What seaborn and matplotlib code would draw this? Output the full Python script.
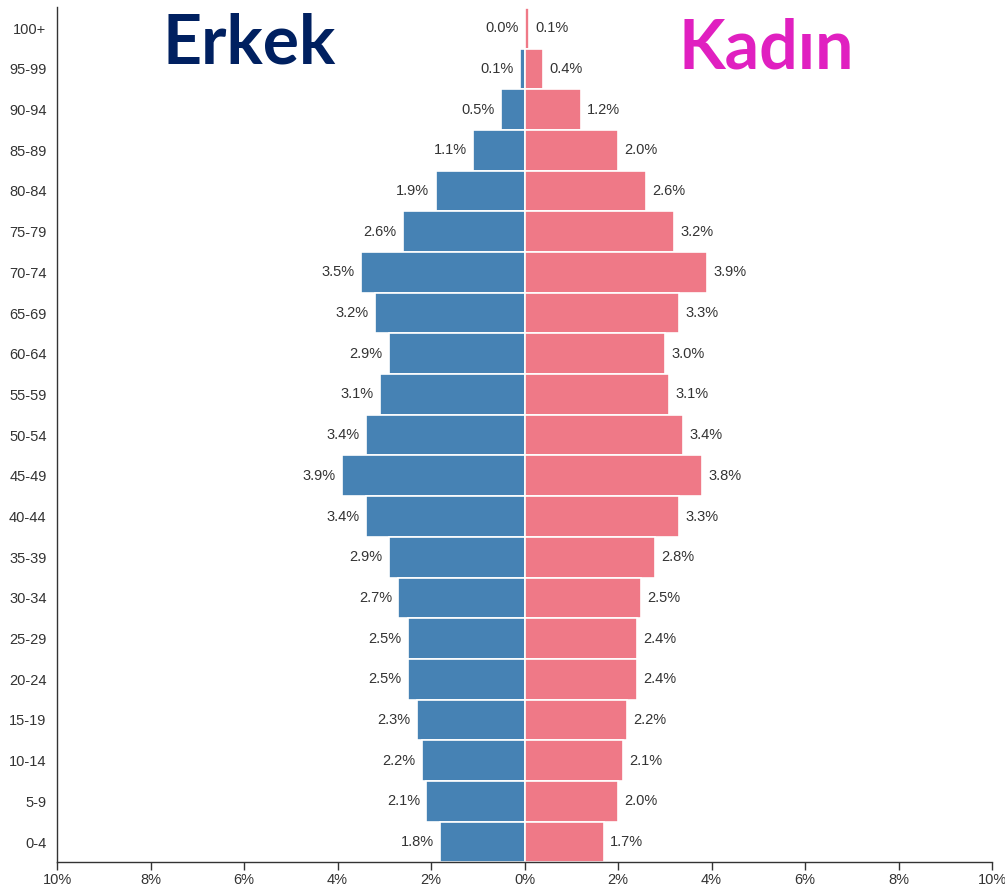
import numpy as np
import pandas as pd
import matplotlib
matplotlib.use("Agg")
import matplotlib.pyplot as plt
import seaborn as sns

# ── DATA ────────────────────────────────────────────────────────────────────
ages = ["100+", "95-99", "90-94", "85-89", "80-84", "75-79", "70-74", "65-69",
        "60-64", "55-59", "50-54", "45-49", "40-44", "35-39", "30-34", "25-29",
        "20-24", "15-19", "10-14", "5-9", "0-4"]
male = [0.0, 0.1, 0.5, 1.1, 1.9, 2.6, 3.5, 3.2, 2.9, 3.1, 3.4, 3.9, 3.4, 2.9,
        2.7, 2.5, 2.5, 2.3, 2.2, 2.1, 1.8]
female = [0.1, 0.4, 1.2, 2.0, 2.6, 3.2, 3.9, 3.3, 3.0, 3.1, 3.4, 3.8, 3.3, 2.8,
          2.5, 2.4, 2.4, 2.2, 2.1, 2.0, 1.7]
xticks = [-10, -8, -6, -4, -2, 0, 2, 4, 6, 8, 10]

MALE_COLOR = "#4682b4"
FEMALE_COLOR = "#ef7987"
TEXT_COLOR = "#333333"

df = pd.DataFrame({"age": ages, "male": male, "female": female})
df["male_neg"] = -df["male"]

sns.set_style("white")
plt.rcParams["font.family"] = ["Liberation Sans", "DejaVu Sans"]

fig = plt.figure(figsize=(10.05, 8.89), dpi=100)
ax = fig.add_axes([57 / 1005, 1 - 862 / 889, 935 / 1005, 855 / 889])

sns.barplot(data=df, x="male_neg", y="age", order=ages, orient="h", ax=ax,
            color=MALE_COLOR, saturation=1, width=1.0,
            edgecolor="white", linewidth=1.2)
sns.barplot(data=df, x="female", y="age", order=ages, orient="h", ax=ax,
            color=FEMALE_COLOR, saturation=1, width=1.0,
            edgecolor="white", linewidth=1.2)

# value labels
for i, (m, f) in enumerate(zip(male, female)):
    ax.annotate(f"{m:.1f}%", (-m, i), xytext=(-4.5, 0), textcoords="offset points",
                ha="right", va="center", fontsize=10.5, color=TEXT_COLOR)
    ax.annotate(f"{f:.1f}%", (f, i), xytext=(4.5, 0), textcoords="offset points",
                ha="left", va="center", fontsize=10.5, color=TEXT_COLOR)

ax.set_xlim(-10, 10)
ax.set_ylim(20.49, -0.52)
ax.set_xticks(xticks)
ax.set_xticklabels([f"{abs(t)}%" for t in xticks])
ax.set_xlabel("")
ax.set_ylabel("")

for s in ["top", "right"]:
    ax.spines[s].set_visible(False)
for s in ["left", "bottom"]:
    ax.spines[s].set_color("#333333")
    ax.spines[s].set_linewidth(1.0)

ax.tick_params(axis="x", bottom=True, length=6, width=1, color="#333333",
               labelsize=10.5, labelcolor=TEXT_COLOR, pad=2)
ax.tick_params(axis="y", left=False, labelsize=10.5, labelcolor=TEXT_COLOR, pad=4)

# titles
fig.text(249 / 1005, 1 - 44 / 889, "Erkek", ha="center", va="center",
         fontsize=49, fontweight="bold", color="#002060", family=["Lato", "DejaVu Sans"])
fig.text(766 / 1005, 1 - 49 / 889, "Kadın", ha="center", va="center",
         fontsize=49, fontweight="bold", color="#e020c0", family=["Lato", "DejaVu Sans"])

fig.savefig("out.png", dpi=100, facecolor="white")
